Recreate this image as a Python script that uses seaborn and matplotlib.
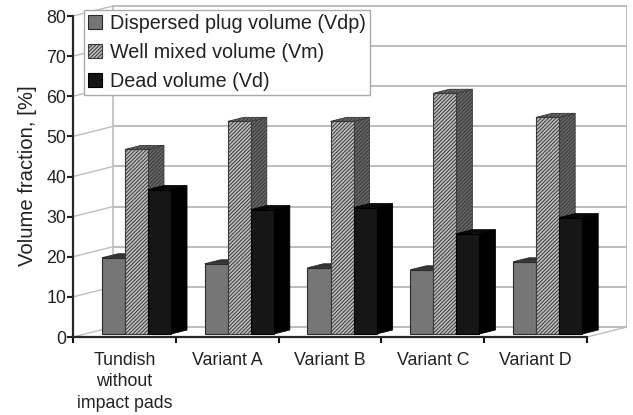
"""Volume fractions per tundish variant, drawn as a pseudo 3D bar chart."""

import pandas as pd
import matplotlib.pyplot as plt
import seaborn as sns
from matplotlib.patches import Polygon

categories = ['Tundish\nwithout\nimpact pads', 'Variant A', 'Variant B', 'Variant C', 'Variant D']
series_names = ['Dispersed plug volume (Vdp)', 'Well mixed volume (Vm)', 'Dead volume (Vd)']
vdp = [19, 17.5, 16.5, 16, 18]
vm = [46, 53, 53, 60, 54]
vd = [36, 31, 31.5, 25, 29]
y_ticks = [0, 10, 20, 30, 40, 50, 60, 70, 80]

front_colors = ['#767676', '#bdbdbd', '#161616']
side_colors = ['#3a3a3a', '#666666', '#000000']
top_colors = ['#333333', '#6a6a6a', '#0a0a0a']
edge_colors = ['#2a2a2a', '#3a3a3a', '#000000']
hatches = ['', '/////////', '']

# depth of the fake 3D box and of the bars, in data units
WALL_DX, WALL_DY = 0.389, 2.5
BAR_DX, BAR_DY = 0.117, 0.75
SIDE_DX, SIDE_DY = 0.156, 1.0

sns.set_style('white')
plt.rcParams['font.family'] = ['Liberation Sans', 'DejaVu Sans']
plt.rcParams['hatch.linewidth'] = 0.7

df = pd.DataFrame({
    'category': categories * 3,
    'series': [n for n in series_names for _ in categories],
    'value': vdp + vm + vd,
})

fig = plt.figure(figsize=(6.33, 4.15), dpi=100)
ax = fig.add_axes([73 / 633, 78 / 415, 554 / 633, 332 / 415])

sns.barplot(data=df, x='category', y='value', hue='series', order=categories,
            hue_order=series_names, palette=front_colors, saturation=1,
            width=0.672, gap=0, ax=ax)

ax.set_xlim(-0.5, 4.5 + WALL_DX)
ax.set_ylim(0, 80 + WALL_DY + 0.25)

# back wall and left wall grid
wall_color = '#bdbdbd'
for v in y_ticks:
    ax.plot([-0.5 + WALL_DX, 4.5 + WALL_DX], [v + WALL_DY, v + WALL_DY], color=wall_color, lw=1.4, zorder=1)
    ax.plot([-0.5, -0.5 + WALL_DX], [v, v + WALL_DY], color=wall_color, lw=1.0, zorder=1)
ax.plot([-0.5 + WALL_DX] * 2, [WALL_DY, 80 + WALL_DY], color=wall_color, lw=1.2, zorder=1)
ax.plot([4.5 + WALL_DX] * 2, [WALL_DY, 80 + WALL_DY], color=wall_color, lw=1.4, zorder=1)
ax.plot([4.5, 4.5 + WALL_DX], [0, WALL_DY], color=wall_color, lw=1.0, zorder=1)

# style the bars and add their side and top faces
bars = []
for s, container in enumerate(ax.containers):
    for bar in container:
        bar.set_edgecolor(edge_colors[s])
        bar.set_linewidth(0.8)
        bar.set_hatch(hatches[s])
        bars.append((bar, s))

bars.sort(key=lambda item: item[0].get_x())
for k, (bar, s) in enumerate(bars):
    bar.set_x(bar.get_x() + BAR_DX)
    bar.set_y(BAR_DY)
    z = 3 + k * 0.1
    bar.set_zorder(z + 0.05)
    x0, x1 = bar.get_x(), bar.get_x() + bar.get_width()
    y0, y1 = BAR_DY, BAR_DY + bar.get_height()
    side = Polygon([(x1, y0), (x1 + SIDE_DX, y0 + SIDE_DY), (x1 + SIDE_DX, y1 + SIDE_DY), (x1, y1)],
                   facecolor=side_colors[s], edgecolor=edge_colors[s], lw=0.6, hatch=hatches[s], zorder=z)
    top = Polygon([(x0, y1), (x1, y1), (x1 + SIDE_DX, y1 + SIDE_DY), (x0 + SIDE_DX, y1 + SIDE_DY)],
                  facecolor=top_colors[s], edgecolor=edge_colors[s], lw=0.6, hatch=hatches[s], zorder=z)
    ax.add_patch(side)
    ax.add_patch(top)

# axes
sns.despine(ax=ax, top=True, right=True)
ax.spines['left'].set_bounds(0, 80)
ax.spines['bottom'].set_bounds(-0.5, 4.5)
ax.spines['left'].set_linewidth(1.6)
ax.spines['bottom'].set_linewidth(1.6)
ax.spines['left'].set_zorder(20)
ax.spines['bottom'].set_zorder(20)

ax.set_yticks(y_ticks)
ax.tick_params(axis='y', which='major', left=True, length=4, width=1.5, labelsize=12.8, pad=1, colors='#222222')
ax.set_xticks([-0.5, 0.5, 1.5, 2.5, 3.5, 4.5], labels=[])
ax.set_xticks(range(len(categories)), labels=categories, minor=True)
ax.tick_params(axis='x', which='major', bottom=True, length=4, width=1.5, color='#111111')
ax.tick_params(axis='x', which='minor', bottom=False, length=0, labelsize=12.8, pad=11, labelcolor='#222222')
for label in ax.get_xticklabels(minor=True):
    label.set_linespacing(1.32)

ax.set_xlabel('')
ax.set_ylabel('Volume fraction, [%]', fontsize=14.6, color='#222222')
ax.yaxis.set_label_coords(-0.065, 0.485)

handles = [c[0] for c in ax.containers]
legend = ax.legend(handles, series_names, loc='upper left', bbox_to_anchor=(84 / 633, 1 - 10 / 415),
                   bbox_transform=fig.transFigure, borderaxespad=0, fontsize=14.2, frameon=True,
                   fancybox=False, framealpha=1, edgecolor='#aaaaaa', handlelength=0.72, handleheight=0.72,
                   handletextpad=0.4, labelspacing=0.5, borderpad=0.2, labelcolor='#222222')
legend.set_zorder(30)

plt.savefig('out.png', dpi=100)
plt.close()
